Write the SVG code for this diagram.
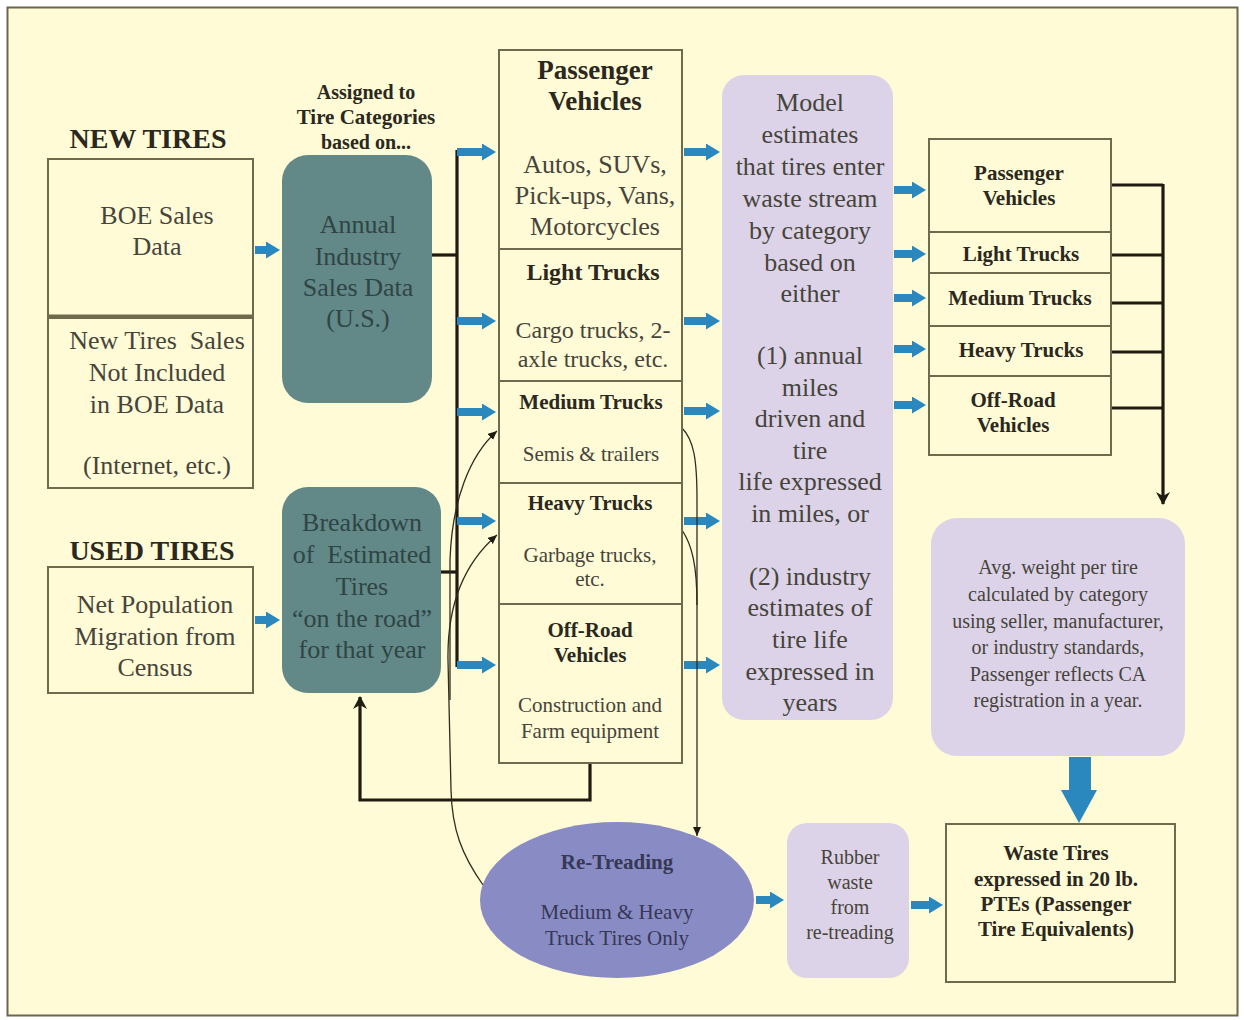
<svg xmlns="http://www.w3.org/2000/svg" width="1244" height="1020" viewBox="0 0 1244 1020">
  <style>
    text { font-family: "Liberation Serif", "Times New Roman", serif; text-anchor: middle; }
    .t { fill: #46443b; }
    .b { fill: #2a2820; font-weight: bold; }
    .tl { fill: #2f4544; }
    .el { fill: #363855; }
    .box { fill: none; stroke: #6e6a4e; stroke-width: 2; }
    .teal { fill: #628888; }
    .lav { fill: #dcd3e8; }
    .blue { stroke: #2a88bf; stroke-width: 8; fill: none; marker-end: url(#bh); }
    .bus { stroke: #1f1b12; stroke-width: 3.2; fill: none; }
    .thin { stroke: #2f2c20; stroke-width: 1.3; fill: none; }
  </style>
  <defs>
    <marker id="bh" markerUnits="userSpaceOnUse" markerWidth="15" markerHeight="17" refX="4" refY="8.5" orient="auto">
      <path d="M0,0 L14,8.5 L0,17 Z" fill="#2a88bf"/>
    </marker>
    <marker id="kh" markerUnits="userSpaceOnUse" markerWidth="14" markerHeight="14" refX="12" refY="7" orient="auto">
      <path d="M0,0 L13,7 L0,14 L4,7 Z" fill="#1f1b12"/>
    </marker>
    <marker id="kt" markerUnits="userSpaceOnUse" markerWidth="10" markerHeight="10" refX="9" refY="4" orient="auto">
      <path d="M0,0 L9,4 L0,8 Z" fill="#1f1b12"/>
    </marker>
  </defs>

  <!-- page -->
  <rect x="0" y="0" width="1244" height="1020" fill="#ffffff"/>
  <rect x="7.5" y="7.5" width="1230" height="1008" fill="#fefbd6" stroke="#6b6650" stroke-width="2"/>

  <!-- section headings -->
  <text class="b" x="148" y="148" font-size="28">NEW TIRES</text>
  <text class="b" x="152" y="560" font-size="28">USED TIRES</text>
  <text class="b" x="366" y="99" font-size="20">Assigned to</text>
  <text class="b" x="366" y="124" font-size="21">Tire Categories</text>
  <text class="b" x="366" y="149" font-size="20">based on...</text>

  <!-- connectors -->
  <g id="connectors">
    <!-- sources into the rounded teal boxes -->
    <line class="blue" x1="255" y1="250" x2="270" y2="250"/>
    <line class="blue" x1="255" y1="620" x2="270" y2="620"/>
    <!-- bus feeding the category column -->
    <polyline class="bus" points="432,255 457,255"/>
    <polyline class="bus" points="441,572 457,572"/>
    <line class="bus" x1="457" y1="150" x2="457" y2="667"/>
    <line class="blue" x1="457" y1="152" x2="486" y2="152"/>
    <line class="blue" x1="457" y1="321" x2="486" y2="321"/>
    <line class="blue" x1="457" y1="412" x2="486" y2="412"/>
    <line class="blue" x1="457" y1="521" x2="486" y2="521"/>
    <line class="blue" x1="457" y1="665" x2="486" y2="665"/>
    <!-- category column into the model box -->
    <line class="blue" x1="684" y1="152" x2="710" y2="152"/>
    <line class="blue" x1="684" y1="321" x2="710" y2="321"/>
    <line class="blue" x1="684" y1="411" x2="710" y2="411"/>
    <line class="blue" x1="684" y1="521" x2="710" y2="521"/>
    <line class="blue" x1="684" y1="665" x2="710" y2="665"/>
    <!-- model box into the waste categories -->
    <line class="blue" x1="894" y1="190" x2="916" y2="190"/>
    <line class="blue" x1="894" y1="254" x2="916" y2="254"/>
    <line class="blue" x1="894" y1="298" x2="916" y2="298"/>
    <line class="blue" x1="894" y1="349" x2="916" y2="349"/>
    <line class="blue" x1="894" y1="405" x2="916" y2="405"/>
    <!-- waste categories gathered into the weight box -->
    <polyline class="bus" points="1111,185 1163,185"/>
    <polyline class="bus" points="1111,255 1163,255"/>
    <polyline class="bus" points="1111,303 1163,303"/>
    <polyline class="bus" points="1111,352 1163,352"/>
    <polyline class="bus" points="1111,408 1163,408"/>
    <line class="bus" x1="1163" y1="184" x2="1163" y2="504" marker-end="url(#kh)"/>
    <!-- feedback to the used-tire breakdown -->
    <polyline class="bus" points="590,763 590,800 360,800 360,697" marker-end="url(#kh)"/>
    <!-- medium / heavy trucks into re-treading -->
    <path class="thin" d="M682,428 C694,440 697,460 697,500 L697,836" marker-end="url(#kt)"/>
    <path class="thin" d="M682,530 C692,545 697,565 697,605"/>
    <!-- re-treaded tires back to medium / heavy trucks -->
    <path class="thin" d="M483,885 C462,855 452,830 451,790 L448,660 C447,600 468,560 497,535" marker-end="url(#kt)"/>
    <path class="thin" d="M450,700 L450,560 C452,500 470,455 497,431" marker-end="url(#kt)"/>
    <!-- re-treading outputs -->
    <line class="blue" x1="756" y1="900" x2="774" y2="900"/>
    <line class="blue" x1="911" y1="905" x2="933" y2="905"/>
    <!-- weight box down to waste tires -->
    <path d="M1069,757 L1091,757 L1091,790 L1097,790 L1079,823 L1061,790 L1069,790 Z" fill="#2a88bf"/>
  </g>

  <!-- new tire sales -->
  <g id="boe-sales">
    <rect class="box" x="48" y="159" width="205" height="157"/>
    <text class="t" x="157" y="224" font-size="26">BOE Sales</text>
    <text class="t" x="157" y="255" font-size="26">Data</text>
  </g>
  <g id="other-sales">
    <rect class="box" x="48" y="318" width="205" height="170"/>
    <line x1="48" y1="316" x2="253" y2="316" stroke="#6e6a4e" stroke-width="3"/>
    <text class="t" x="157" y="349" font-size="26" xml:space="preserve">New Tires  Sales</text>
    <text class="t" x="157" y="381" font-size="26">Not Included</text>
    <text class="t" x="157" y="413" font-size="26">in BOE Data</text>
    <text class="t" x="157" y="474" font-size="26">(Internet, etc.)</text>
  </g>

  <!-- used tires -->
  <g id="migration">
    <rect class="box" x="48" y="567" width="205" height="126"/>
    <text class="t" x="155" y="613" font-size="26">Net Population</text>
    <text class="t" x="155" y="645" font-size="26">Migration from</text>
    <text class="t" x="155" y="676" font-size="26">Census</text>
  </g>

  <!-- teal process boxes -->
  <g id="industry-sales">
    <rect class="teal" x="282" y="155" width="150" height="248" rx="26"/>
    <text class="tl" x="358" y="233" font-size="26">Annual</text>
    <text class="tl" x="358" y="265" font-size="26">Industry</text>
    <text class="tl" x="358" y="296" font-size="26">Sales Data</text>
    <text class="tl" x="358" y="327" font-size="26">(U.S.)</text>
  </g>
  <g id="breakdown">
    <rect class="teal" x="282" y="487" width="159" height="206" rx="26"/>
    <text class="tl" x="362" y="531" font-size="26">Breakdown</text>
    <text class="tl" x="362" y="563" font-size="26" xml:space="preserve">of  Estimated</text>
    <text class="tl" x="362" y="595" font-size="26">Tires</text>
    <text class="tl" x="362" y="627" font-size="26">“on the road”</text>
    <text class="tl" x="362" y="658" font-size="26">for that year</text>
  </g>

  <!-- tire categories -->
  <g id="categories">
    <rect class="box" x="499" y="50" width="183" height="713"/>
    <line class="box" x1="499" y1="249" x2="682" y2="249"/>
    <line class="box" x1="499" y1="381" x2="682" y2="381"/>
    <line class="box" x1="499" y1="483" x2="682" y2="483"/>
    <line class="box" x1="499" y1="604" x2="682" y2="604"/>
    <text class="b" x="595" y="79" font-size="27">Passenger</text>
    <text class="b" x="595" y="110" font-size="27">Vehicles</text>
    <text class="t" x="595" y="173" font-size="26">Autos, SUVs,</text>
    <text class="t" x="595" y="204" font-size="26">Pick-ups, Vans,</text>
    <text class="t" x="595" y="235" font-size="26">Motorcycles</text>
    <text class="b" x="593" y="280" font-size="24">Light Trucks</text>
    <text class="t" x="593" y="338" font-size="24">Cargo trucks, 2-</text>
    <text class="t" x="593" y="367" font-size="24">axle trucks, etc.</text>
    <text class="b" x="591" y="409" font-size="21">Medium Trucks</text>
    <text class="t" x="591" y="461" font-size="21">Semis &amp; trailers</text>
    <text class="b" x="590" y="510" font-size="21">Heavy Trucks</text>
    <text class="t" x="590" y="562" font-size="21">Garbage trucks,</text>
    <text class="t" x="590" y="586" font-size="21">etc.</text>
    <text class="b" x="590" y="637" font-size="21">Off-Road</text>
    <text class="b" x="590" y="662" font-size="21">Vehicles</text>
    <text class="t" x="590" y="712" font-size="21">Construction and</text>
    <text class="t" x="590" y="738" font-size="21">Farm equipment</text>
  </g>

  <!-- waste stream model -->
  <g id="model">
    <rect class="lav" x="722" y="75" width="171" height="645" rx="22"/>
    <text class="t" x="810" y="111" font-size="26">Model</text>
    <text class="t" x="810" y="143" font-size="26">estimates</text>
    <text class="t" x="810" y="175" font-size="26">that tires enter</text>
    <text class="t" x="810" y="207" font-size="26">waste stream</text>
    <text class="t" x="810" y="239" font-size="26">by category</text>
    <text class="t" x="810" y="271" font-size="26">based on</text>
    <text class="t" x="810" y="302" font-size="26">either</text>
    <text class="t" x="810" y="364" font-size="26">(1) annual</text>
    <text class="t" x="810" y="396" font-size="26">miles</text>
    <text class="t" x="810" y="427" font-size="26">driven and</text>
    <text class="t" x="810" y="459" font-size="26">tire</text>
    <text class="t" x="810" y="490" font-size="26">life expressed</text>
    <text class="t" x="810" y="522" font-size="26">in miles, or</text>
    <text class="t" x="810" y="585" font-size="26">(2) industry</text>
    <text class="t" x="810" y="616" font-size="26">estimates of</text>
    <text class="t" x="810" y="648" font-size="26">tire life</text>
    <text class="t" x="810" y="680" font-size="26">expressed in</text>
    <text class="t" x="810" y="711" font-size="26">years</text>
  </g>

  <!-- waste categories -->
  <g id="waste-categories">
    <rect class="box" x="929" y="139" width="182" height="316"/>
    <line class="box" x1="929" y1="232" x2="1111" y2="232"/>
    <line class="box" x1="929" y1="273" x2="1111" y2="273"/>
    <line class="box" x1="929" y1="326" x2="1111" y2="326"/>
    <line class="box" x1="929" y1="376" x2="1111" y2="376"/>
    <text class="b" x="1019" y="180" font-size="21">Passenger</text>
    <text class="b" x="1019" y="205" font-size="21">Vehicles</text>
    <text class="b" x="1021" y="261" font-size="21">Light Trucks</text>
    <text class="b" x="1020" y="305" font-size="21">Medium Trucks</text>
    <text class="b" x="1021" y="357" font-size="21">Heavy Trucks</text>
    <text class="b" x="1013" y="407" font-size="21">Off-Road</text>
    <text class="b" x="1013" y="432" font-size="21">Vehicles</text>
  </g>

  <!-- average weight -->
  <g id="avg-weight">
    <rect class="lav" x="931" y="518" width="254" height="238" rx="26"/>
    <text class="t" x="1058" y="574" font-size="20">Avg. weight per tire</text>
    <text class="t" x="1058" y="601" font-size="20">calculated by category</text>
    <text class="t" x="1058" y="628" font-size="20">using seller, manufacturer,</text>
    <text class="t" x="1058" y="654" font-size="20">or industry standards,</text>
    <text class="t" x="1058" y="681" font-size="20">Passenger reflects CA</text>
    <text class="t" x="1058" y="707" font-size="20">registration in a year.</text>
  </g>

  <!-- re-treading -->
  <g id="retreading">
    <ellipse cx="617" cy="900" rx="137" ry="78" fill="#898bc4"/>
    <text class="el" x="617" y="869" font-size="21" font-weight="bold">Re-Treading</text>
    <text class="el" x="617" y="919" font-size="21">Medium &amp; Heavy</text>
    <text class="el" x="617" y="945" font-size="21">Truck Tires Only</text>
  </g>
  <g id="rubber-waste">
    <rect class="lav" x="787" y="823" width="122" height="155" rx="20"/>
    <text class="t" x="850" y="864" font-size="20">Rubber</text>
    <text class="t" x="850" y="889" font-size="20">waste</text>
    <text class="t" x="850" y="914" font-size="20">from</text>
    <text class="t" x="850" y="939" font-size="20">re-treading</text>
  </g>

  <!-- final result -->
  <g id="waste-tires">
    <rect class="box" x="946" y="824" width="229" height="158"/>
    <text class="b" x="1056" y="860" font-size="21">Waste Tires</text>
    <text class="b" x="1056" y="886" font-size="21">expressed in 20 lb.</text>
    <text class="b" x="1056" y="911" font-size="21">PTEs (Passenger</text>
    <text class="b" x="1056" y="936" font-size="21">Tire Equivalents)</text>
  </g>
</svg>
